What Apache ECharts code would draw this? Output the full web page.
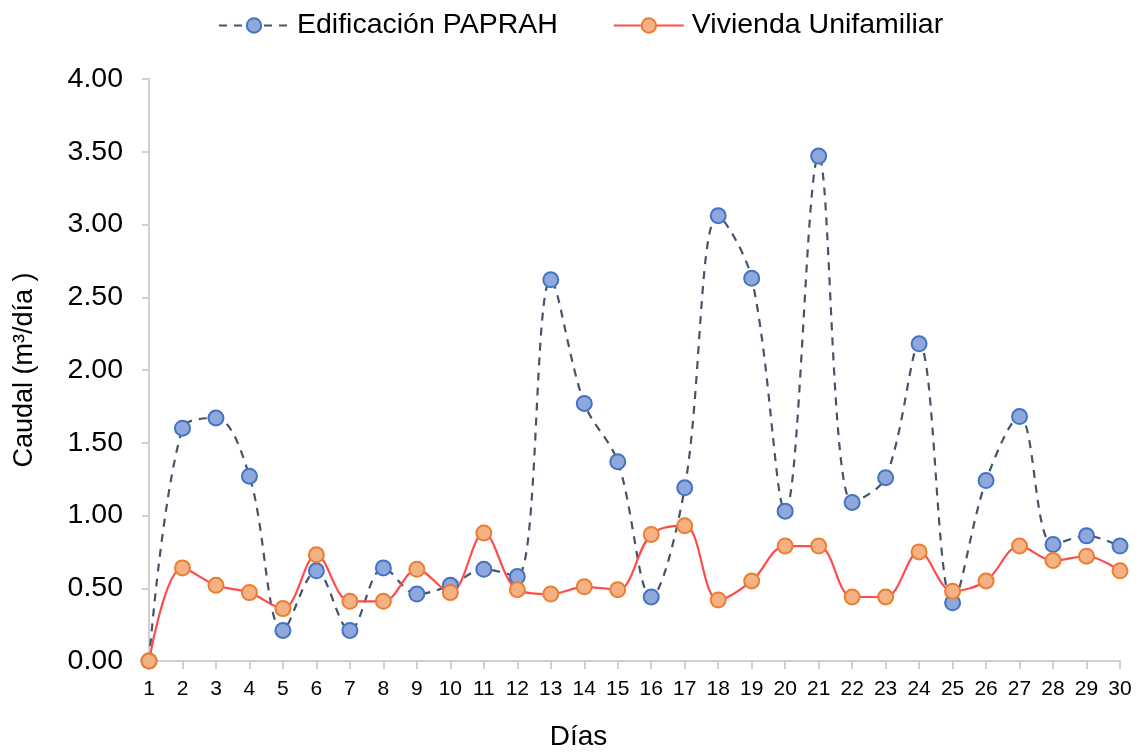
<!DOCTYPE html>
<html><head><meta charset="utf-8">
<script src="https://cdn.jsdelivr.net/npm/echarts@6/dist/echarts.min.js"></script>
<style>html,body{margin:0;padding:0;background:#fff}#c{width:1137px;height:752px}</style>
</head><body><div id="c"></div>
<script>
const days = ['1','2','3','4','5','6','7','8','9','10','11','12','13','14','15','16','17','18','19','20','21','22','23','24','25','26','27','28','29','30'];
const paprah = [0.00,1.60,1.67,1.27,0.21,0.62,0.21,0.64,0.46,0.52,0.63,0.58,2.62,1.77,1.37,0.44,1.19,3.06,2.63,1.03,3.47,1.09,1.26,2.18,0.40,1.24,1.68,0.80,0.86,0.79];
const vivienda = [0.00,0.64,0.52,0.47,0.36,0.73,0.41,0.41,0.63,0.47,0.88,0.49,0.46,0.51,0.49,0.87,0.93,0.42,0.55,0.79,0.79,0.44,0.44,0.75,0.48,0.55,0.79,0.69,0.72,0.62];
const font = 'Liberation Sans, Arial, sans-serif';
const chart = echarts.init(document.getElementById('c'));
chart.setOption({
  animation:false,
  textStyle:{fontFamily:font},
  legend:{top:6,left:213,itemWidth:70,itemHeight:18,itemGap:55,
    textStyle:{fontSize:28.5,color:'#000',fontFamily:font,padding:[0,0,0,3]},
    data:['Edificación PAPRAH','Vivienda Unifamiliar']},
  grid:{left:149,right:17,top:79,bottom:91,containLabel:false,outerBoundsMode:'none'},
  xAxis:{type:'category',data:days,boundaryGap:false,
    name:'Días',nameLocation:'middle',nameGap:62,
    nameTextStyle:{fontSize:28,color:'#000',fontFamily:font,verticalAlign:'top',padding:[0,112,0,0]},
    axisLine:{lineStyle:{color:'#d0d0d0',width:2}},
    axisTick:{show:true,length:8,lineStyle:{color:'#d0d0d0',width:2}},
    axisLabel:{fontSize:21,color:'#000',margin:18,fontFamily:font}},
  yAxis:{type:'value',min:0,max:4,interval:0.5,
    name:'Caudal (m³/día )',nameLocation:'middle',nameGap:111,
    nameTextStyle:{fontSize:27,color:'#000',fontFamily:font},
    axisLine:{show:true,lineStyle:{color:'#d0d0d0',width:2}},
    axisTick:{show:true,length:7,lineStyle:{color:'#d0d0d0',width:2}},
    splitLine:{show:false},
    axisLabel:{fontSize:28.5,color:'#000',margin:26,fontFamily:font,formatter:v=>v.toFixed(2)}},
  series:[
    {name:'Edificación PAPRAH',type:'line',data:paprah,smooth:0.35,
     symbol:'circle',symbolSize:15,
     lineStyle:{color:'#44546a',width:2.2,type:[8,7]},
     itemStyle:{color:'#8fa8dc',borderColor:'#4472c4',borderWidth:2}},
    {name:'Vivienda Unifamiliar',type:'line',data:vivienda,smooth:0.35,
     symbol:'circle',symbolSize:15,
     lineStyle:{color:'#ff4b4b',width:2.2},
     itemStyle:{color:'#f4b183',borderColor:'#ed7d31',borderWidth:2}}
  ]
});
</script></body></html>
